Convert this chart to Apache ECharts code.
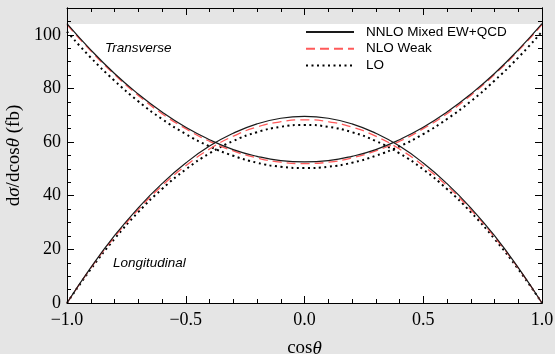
<!DOCTYPE html>
<html>
<head>
<meta charset="utf-8">
<script src="https://cdn.jsdelivr.net/npm/echarts@6/dist/echarts.min.js"></script>
<style>
  html, body { margin: 0; padding: 0; background: #e5e5e5; }
  #main { width: 555px; height: 354px; }
</style>
</head>
<body>
<div id="main"></div>
<script>
  // cos(theta) sample points
  var cosTheta = [-1, -0.9, -0.8, -0.7, -0.6, -0.5, -0.4, -0.3, -0.2, -0.1, 0,
                  0.1, 0.2, 0.3, 0.4, 0.5, 0.6, 0.7, 0.8, 0.9, 1]

  // longitudinal
  var longNNLO = [0, 13.2, 25.1, 35.5, 44.5, 52.2, 58.5, 63.3, 66.8, 68.9, 69.6,
                  68.9, 66.8, 63.3, 58.5, 52.2, 44.5, 35.5, 25.1, 13.2, 0]
  var longNLO = [0, 13.0, 24.6, 34.8, 43.7, 51.2, 57.4, 62.2, 65.6, 67.6, 68.3,
                 67.6, 65.6, 62.2, 57.4, 51.2, 43.7, 34.8, 24.6, 13.0, 0]
  var longLO = [0, 12.6, 23.9, 33.9, 42.5, 49.8, 55.8, 60.4, 63.7, 65.7, 66.4,
                65.7, 63.7, 60.4, 55.8, 49.8, 42.5, 33.9, 23.9, 12.6, 0]

  // transverse
  var transNNLO = [104.2, 94.4, 85.6, 77.9, 71.2, 65.5, 60.9, 57.2, 54.7, 53.1, 52.6,
                   53.1, 54.7, 57.2, 60.9, 65.5, 71.2, 77.9, 85.6, 94.4, 104.2]
  var transNLO = [103.8, 94.0, 85.2, 77.4, 70.6, 65.0, 60.3, 56.7, 54.1, 52.5, 52.0,
                  52.5, 54.1, 56.7, 60.3, 65.0, 70.6, 77.4, 85.2, 94.0, 103.8]
  var transLO = [101.2, 91.5, 82.9, 75.2, 68.6, 63.0, 58.4, 54.9, 52.3, 50.8, 50.3,
                 50.8, 52.3, 54.9, 58.4, 63.0, 68.6, 75.2, 82.9, 91.5, 101.2]

  // ticks
  var yMajorTicks = [0, 20, 40, 60, 80, 100]
  var yMinorTicks = [5, 10, 15, 25, 30, 35, 45, 50, 55, 65, 70, 75, 85, 90, 95, 105]
  var legendNames = ['NNLO Mixed EW+QCD', 'NLO Weak', 'LO']

  var serif = '"Liberation Serif", "DejaVu Serif", serif'
  var sans = '"Liberation Sans", Arial, sans-serif'

  var frameLine = { show: true, onZero: false, lineStyle: { color: '#000', width: 1 } }
  var titleRich = {
    n: { fontFamily: serif, fontSize: 19, color: '#000' },
    i: { fontFamily: serif, fontSize: 19, fontStyle: 'italic', color: '#000' }
  }

  function frameX(pos, labels, name) {
    return {
      type: 'value', position: pos, min: -1, max: 1, interval: 0.5, z: 10,
      axisLine: frameLine,
      axisTick: { show: true, inside: true, length: 7, lineStyle: { color: '#000' } },
      minorTick: { show: true, splitNumber: 5, length: 4, lineStyle: { color: '#000' } },
      axisLabel: {
        show: labels, margin: 8, color: '#000', fontFamily: serif, fontSize: 18,
        formatter: function (v) { return v.toFixed(1).replace('-', '\u2212') }
      },
      splitLine: { show: false },
      name: name || '',
      nameLocation: 'middle',
      nameGap: 36,
      nameTextStyle: { rich: titleRich }
    }
  }

  function frameY(pos, ticks, len, labels, name) {
    return {
      type: 'value', position: pos, min: 0, max: 110, z: 10,
      axisLine: frameLine,
      axisTick: { show: true, inside: true, length: len, customValues: ticks, lineStyle: { color: '#000' } },
      axisLabel: { show: labels, customValues: ticks, margin: 6, color: '#000', fontFamily: serif, fontSize: 18 },
      splitLine: { show: false },
      name: name || '',
      nameLocation: 'middle',
      nameGap: 42,
      nameTextStyle: { rich: titleRich }
    }
  }

  function curve(name, ys, style) {
    return {
      name: name,
      type: 'line',
      smooth: true,
      symbol: 'none',
      showSymbol: false,
      silent: true,
      lineStyle: style,
      data: cosTheta.map(function (c, i) { return [c, ys[i]] })
    }
  }

  var solid = { color: '#1a1a1a', width: 1.2, type: 'solid' }
  var dashed = { color: '#ff5a5a', width: 1.3, type: [9, 5] }
  var dotted = { color: '#000', width: 2, type: [2, 3.5] }

  var chart = echarts.init(document.getElementById('main'))
  var option = {
    backgroundColor: '#e5e5e5',
    animation: false,
    grid: {
      left: 67, right: 13, top: 8, bottom: 51,
      outerBoundsMode: 'none',
      containLabel: false,
      show: true, backgroundColor: '#fff', borderWidth: 0
    },
    legend: {
      data: legendNames,
      orient: 'vertical',
      left: 305, top: 25, padding: 0,
      itemWidth: 48, itemHeight: 14, itemGap: 2.7,
      itemStyle: { opacity: 0 },
      textStyle: { fontFamily: sans, fontSize: 13.5, color: '#000', padding: [0, 0, 0, 7] }
    },
    xAxis: [
      frameX('bottom', true, '{n|cos}{i|θ}'),
      frameX('top', false)
    ],
    yAxis: [
      frameY('left', yMajorTicks, 7, true, '{n|d}{i|σ}{n|/dcos}{i|θ}{n| (fb)}'),
      frameY('left', yMinorTicks, 4, false),
      frameY('right', yMajorTicks, 7, false),
      frameY('right', yMinorTicks, 4, false)
    ],
    graphic: [
      { type: 'text', left: 105, top: 41, style: { text: 'Transverse', font: 'italic 13.5px ' + sans, fill: '#000' } },
      { type: 'text', left: 113, top: 256, style: { text: 'Longitudinal', font: 'italic 13.5px ' + sans, fill: '#000' } }
    ],
    series: [
      curve(legendNames[2], longLO, dotted),
      curve(legendNames[2], transLO, dotted),
      curve(legendNames[1], longNLO, dashed),
      curve(legendNames[1], transNLO, dashed),
      curve(legendNames[0], longNNLO, solid),
      Object.assign(curve(legendNames[0], transNNLO, solid), {
        // gray band above the plot range
        markArea: {
          silent: true,
          itemStyle: { color: '#e5e5e5' },
          data: [[{ yAxis: 104 }, { yAxis: 110 }]]
        }
      })
    ]
  }
  chart.setOption(option)
</script>
</body>
</html>
